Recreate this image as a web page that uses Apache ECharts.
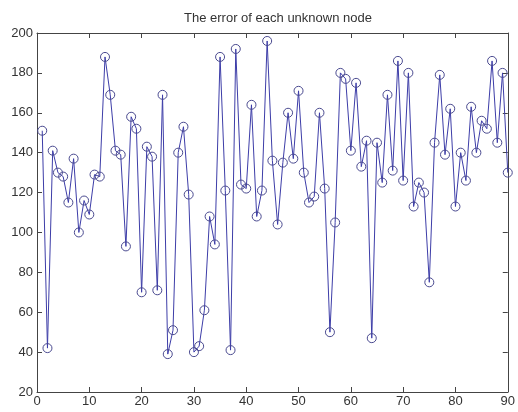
<!DOCTYPE html>
<html>
<head>
<meta charset="utf-8">
<script src="https://cdn.jsdelivr.net/npm/echarts@6/dist/echarts.min.js"></script>
<style>
  html, body { margin: 0; padding: 0; background: #ffffff; }
  #chart { width: 518px; height: 412px; }
</style>
</head>
<body>
<div id="chart"></div>
<script>
// Node index for each unknown node
const nodeIds = [
  1, 2, 3, 4, 5, 6, 7, 8, 9, 10,
  11, 12, 13, 14, 15, 16, 17, 18, 19, 20,
  21, 22, 23, 24, 25, 26, 27, 28, 29, 30,
  31, 32, 33, 34, 35, 36, 37, 38, 39, 40,
  41, 42, 43, 44, 45, 46, 47, 48, 49, 50,
  51, 52, 53, 54, 55, 56, 57, 58, 59, 60,
  61, 62, 63, 64, 65, 66, 67, 68, 69, 70,
  71, 72, 73, 74, 75, 76, 77, 78, 79, 80,
  81, 82, 83, 84, 85, 86, 87, 88, 89, 90
];

// Localization error of each node
const errors = [
  151, 42, 141, 130, 128, 115, 137, 100, 116, 109,
  129, 128, 188, 169, 141, 139, 93, 158, 152, 70,
  143, 138, 71, 169, 39, 51, 140, 153, 119, 40,
  43, 61, 108, 94, 188, 121, 41, 192, 124, 122,
  164, 108, 121, 196, 136, 104, 135, 160, 137, 171,
  130, 115, 118, 160, 122, 50, 105, 180, 177, 141,
  175, 133, 146, 47, 145, 125, 169, 131, 186, 126,
  180, 113, 125, 120, 75, 145, 179, 139, 162, 113,
  140, 126, 163, 140, 156, 152, 186, 145, 180, 130
];

const xTicks = { min: 0, max: 90, step: 10 };
const yTicks = { min: 20, max: 200, step: 20 };

const chart = echarts.init(document.getElementById('chart'), null, { renderer: 'canvas' });

const axisColor = '#444444';
const fontFamily = 'Liberation Sans, Arial, sans-serif';

function xAxisDef(pos, showLabels) {
  return {
    type: 'value',
    position: pos,
    min: xTicks.min, max: xTicks.max, interval: xTicks.step,
    axisLine: { show: true, onZero: false, lineStyle: { color: axisColor, width: 1 } },
    axisTick: { show: true, inside: true, length: 5, lineStyle: { color: axisColor } },
    axisLabel: { show: showLabels, color: '#333', fontSize: 13, fontFamily: fontFamily, margin: 3 },
    splitLine: { show: false }
  };
}
function yAxisDef(pos, showLabels) {
  return {
    type: 'value',
    position: pos,
    min: yTicks.min, max: yTicks.max, interval: yTicks.step,
    axisLine: { show: true, onZero: false, lineStyle: { color: axisColor, width: 1 } },
    axisTick: { show: true, inside: true, length: 5, lineStyle: { color: axisColor } },
    axisLabel: { show: showLabels, color: '#333', fontSize: 13, fontFamily: fontFamily, margin: 4 },
    splitLine: { show: false }
  };
}

chart.setOption({
  animation: false,
  backgroundColor: '#ffffff',
  title: {
    text: 'The error of each unknown node',
    left: 273, top: 7, textAlign: 'center',
    textStyle: { fontSize: 13, fontWeight: 'normal', color: '#333', fontFamily: fontFamily }
  },
  grid: { left: 37, right: 7, top: 33, bottom: 20, containLabel: false },
  xAxis: [xAxisDef('bottom', true), xAxisDef('top', false)],
  yAxis: [yAxisDef('left', true), yAxisDef('right', false)],
  series: [{
    type: 'line',
    xAxisIndex: 0, yAxisIndex: 0,
    data: nodeIds.map((id, i) => [id, errors[i]]),
    symbol: 'circle',
    symbolSize: 9,
    showAllSymbol: true,
    clip: false,
    lineStyle: { color: '#3d3da8', width: 1 },
    itemStyle: { color: 'rgba(0,0,0,0)', borderColor: '#4a4a90', borderWidth: 1 }
  }]
});
</script>
</body>
</html>
